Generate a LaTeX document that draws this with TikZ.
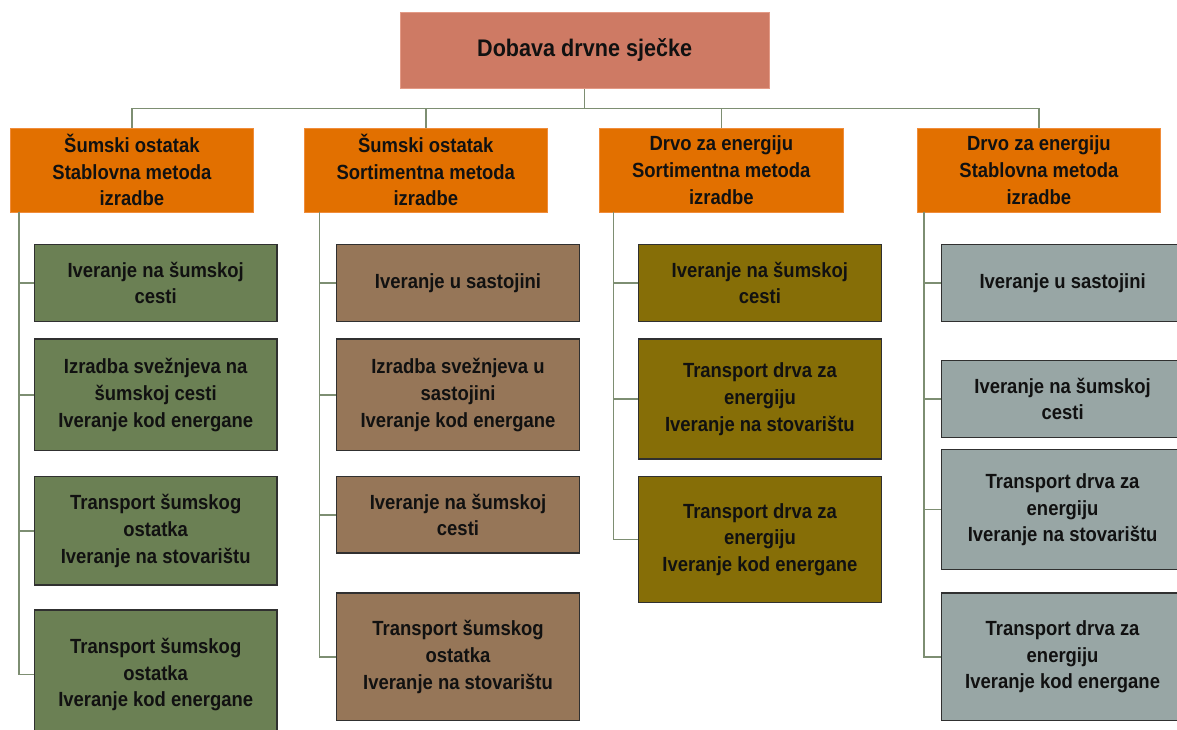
\documentclass[tikz,border=0pt]{standalone}
\usepackage{fontspec}
\setmainfont[FakeStretch=0.9]{Liberation Sans}
\definecolor{rootc}{HTML}{CE7A64}
\definecolor{rootb}{HTML}{E39A86}
\definecolor{orc}{HTML}{E27000}
\definecolor{orb}{HTML}{F08C3A}
\definecolor{grc}{HTML}{6B8054}
\definecolor{brc}{HTML}{967658}
\definecolor{olc}{HTML}{866E07}
\definecolor{gyc}{HTML}{98A6A5}
\definecolor{conc}{HTML}{7D8E72}
\definecolor{boxb}{HTML}{303030}
\definecolor{txt}{HTML}{111111}
\begin{document}
\begin{tikzpicture}[x=1pt,y=-1pt,
  basebox/.style={rectangle, inner sep=0pt, align=center, anchor=north west,
    text=txt, font=\bfseries\fontsize{20.5}{26.7}\selectfont},
  rootbox/.style={basebox, fill=rootc, draw=rootb, line width=0.8pt,
    minimum width=368.5pt, minimum height=76.6pt, font=\bfseries\fontsize{24}{28}\selectfont},
  catbox/.style={basebox, fill=orc, draw=orb, line width=0.8pt,
    minimum width=243.8pt, minimum height=84pt},
  childbox/.style={basebox, draw=boxb, line width=1.4pt,
    minimum width=242.6pt},
  conn/.style={draw=conc, line width=1.5pt}
]
\useasboundingbox (0,0) rectangle (1177,729);
\clip (0,0) rectangle (1177,729);

% root
\node[rootbox] (root) at (400,11.7) {Dobava drvne sječke};

% categories
\node[catbox] (o1) at (9.6,127.7) {Šumski ostatak\\Stablovna metoda\\izradbe};
\node[catbox] (o2) at (303.5,127.7) {Šumski ostatak\\Sortimentna metoda\\izradbe};
\node[catbox] (o3) at (599,127.7) {Drvo za energiju\\Sortimentna metoda\\izradbe};
\node[catbox] (o4) at (916.6,127.7) {Drvo za energiju\\Stablovna metoda\\izradbe};

% column 1 (green)
\node[childbox, fill=grc, minimum height=76.7pt] (g1) at (33.7,244) {Iveranje na šumskoj\\cesti};
\node[childbox, fill=grc, minimum height=111.7pt] (g2) at (33.7,338.3) {Izradba svežnjeva na\\šumskoj cesti\\Iveranje kod energane};
\node[childbox, fill=grc, minimum height=108.3pt] (g3) at (33.7,476) {Transport šumskog\\ostatka\\Iveranje na stovarištu};
\node[childbox, fill=grc, minimum height=129.4pt] (g4) at (33.7,609.3) {Transport šumskog\\ostatka\\Iveranje kod energane};

% column 2 (brown)
\node[childbox, fill=brc, minimum height=76.7pt] (b1) at (336,244) {Iveranje u sastojini};
\node[childbox, fill=brc, minimum height=111.7pt] (b2) at (336,338.3) {Izradba svežnjeva u\\sastojini\\Iveranje kod energane};
\node[childbox, fill=brc, minimum height=76.3pt] (b3) at (336,476) {Iveranje na šumskoj\\cesti};
\node[childbox, fill=brc, minimum height=127.7pt] (b4) at (336,592.3) {Transport šumskog\\ostatka\\Iveranje na stovarištu};

% column 3 (olive)
\node[childbox, fill=olc, minimum height=76.7pt] (l1) at (637.9,244) {Iveranje na šumskoj\\cesti};
\node[childbox, fill=olc, minimum height=120pt] (l2) at (637.9,338.3) {Transport drva za\\energiju\\Iveranje na stovarištu};
\node[childbox, fill=olc, minimum height=125.7pt] (l3) at (637.9,476) {Transport drva za\\energiju\\Iveranje kod energane};

% column 4 (gray)
\node[childbox, fill=gyc, minimum height=76.7pt] (y1) at (940.6,244) {Iveranje u sastojini};
\node[childbox, fill=gyc, minimum height=76.7pt] (y2) at (940.6,360) {Iveranje na šumskoj\\cesti};
\node[childbox, fill=gyc, minimum height=120pt] (y3) at (940.6,449) {Transport drva za\\energiju\\Iveranje na stovarištu};
\node[childbox, fill=gyc, minimum height=127.7pt] (y4) at (940.6,592.3) {Transport drva za\\energiju\\Iveranje kod energane};

% top tree
\coordinate (busy) at (0,108.3);
\draw[conn] (root.south) -- (root.south |- busy);
\draw[conn] (o1.north) -- (o1.north |- busy) -- (o4.north |- busy) -- (o4.north);
\draw[conn] (o2.north) -- (o2.north |- busy);
\draw[conn] (o3.north) -- (o3.north |- busy);

% spines
\coordinate (s1) at (19.1,211.7);
\coordinate (s2) at (319.6,211.7);
\coordinate (s3) at (613.5,211.7);
\coordinate (s4) at (924.2,211.7);
\draw[conn] (s1) |- (g4.west);
\draw[conn] (s1) |- (g1.west);
\draw[conn] (s1) |- (g2.west);
\draw[conn] (s1) |- (g3.west);
\draw[conn] (s2) |- (b4.west);
\draw[conn] (s2) |- (b1.west);
\draw[conn] (s2) |- (b2.west);
\draw[conn] (s2) |- (b3.west);
\draw[conn] (s3) |- (l3.west);
\draw[conn] (s3) |- (l1.west);
\draw[conn] (s3) |- (l2.west);
\draw[conn] (s4) |- (y4.west);
\draw[conn] (s4) |- (y1.west);
\draw[conn] (s4) |- (y2.west);
\draw[conn] (s4) |- (y3.west);
\end{tikzpicture}
\end{document}
